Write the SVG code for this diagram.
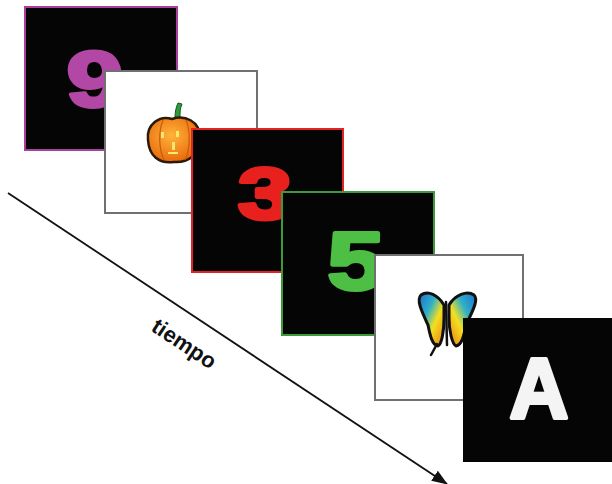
<svg xmlns="http://www.w3.org/2000/svg" width="612" height="484" viewBox="0 0 612 484">
  <defs>
    <style>
      .card-dark { fill: #050505; stroke-width: 2; }
      .card-light { fill: #ffffff; stroke: #707070; stroke-width: 2; }
      .glyph { font-family: "Liberation Sans", Arial, sans-serif; font-weight: bold; text-anchor: middle; stroke-width: 4; stroke-linejoin: round; }
      .label { font-family: "Liberation Sans", Arial, sans-serif; font-weight: bold; font-size: 22px; fill: #111; }
    </style>
    <marker id="arrowhead" viewBox="0 0 16 12" refX="15" refY="6" markerWidth="16" markerHeight="12" markerUnits="userSpaceOnUse" orient="auto">
      <path d="M0,0 L16,6 L0,12 z" fill="#111"/>
    </marker>
    <radialGradient id="pumpkinFill" cx="0.45" cy="0.4" r="0.6">
      <stop offset="0" stop-color="#ffb43a"/>
      <stop offset="1" stop-color="#e86a0c"/>
    </radialGradient>
    <linearGradient id="wingL" x1="0" y1="0" x2="1" y2="1">
      <stop offset="0" stop-color="#1e6fd0"/>
      <stop offset="0.35" stop-color="#2fb0c8"/>
      <stop offset="0.6" stop-color="#f2e020"/>
      <stop offset="1" stop-color="#f07a10"/>
    </linearGradient>
    <linearGradient id="wingR" x1="1" y1="0" x2="0" y2="1">
      <stop offset="0" stop-color="#1e6fd0"/>
      <stop offset="0.35" stop-color="#2fb0c8"/>
      <stop offset="0.6" stop-color="#f2e020"/>
      <stop offset="1" stop-color="#f07a10"/>
    </linearGradient>
  </defs>

  <rect width="612" height="484" fill="#ffffff"/>

  <!-- time axis -->
  <g id="connectors">
    <line x1="8" y1="193" x2="447" y2="484" stroke="#111" stroke-width="1.8" marker-end="url(#arrowhead)"/>
  </g>
  <text class="label" transform="translate(150,330) rotate(33.5)">tiempo</text>

  <!-- stimulus 1: purple nine -->
  <g id="card-nine">
    <rect class="card-dark" x="25" y="7" width="152" height="143" stroke="#a8409c"/>
    <text class="glyph" transform="translate(95,106) scale(1.3,1)" fill="#b247a6" stroke="#b247a6" font-size="78">9</text>
  </g>

  <!-- stimulus 2: pumpkin -->
  <g id="card-pumpkin">
    <rect class="card-light" x="105" y="71" width="152" height="142"/>
    <path d="M175,118 C175,112 176,107 178,103 L182,104 C180,108 180,113 180,118 z" fill="#2e9a3a" stroke="#145a1c" stroke-width="1"/>
    <path d="M148,140 C146,124 160,115 172,119 C184,115 200,120 200,138 C201,155 187,163 174,162 C159,164 149,156 148,140 z" fill="url(#pumpkinFill)" stroke="#2a1a08" stroke-width="2.5"/>
    <path d="M163,120 C158,132 159,150 164,160 M186,120 C191,132 190,150 185,160" fill="none" stroke="#c85a0a" stroke-width="1.2"/>
    <rect x="161" y="132" width="3" height="6" fill="#ffe870"/>
    <rect x="176" y="131" width="3" height="6" fill="#ffe870"/>
    <rect x="172" y="142" width="3" height="8" fill="#ffe870"/>
    <rect x="168" y="152" width="10" height="2" fill="#ffe870"/>
  </g>

  <!-- stimulus 3: red three -->
  <g id="card-three">
    <rect class="card-dark" x="192" y="129" width="151" height="143" stroke="#e42222"/>
    <text class="glyph" transform="translate(265,219) scale(1.35,1)" fill="#e8201e" stroke="#e8201e" font-size="72">3</text>
  </g>

  <!-- stimulus 4: green five -->
  <g id="card-five">
    <rect class="card-dark" x="282" y="192" width="152" height="143" stroke="#3c9a38"/>
    <text class="glyph" transform="translate(356,289) scale(1.25,1)" fill="#4cbf44" stroke="#4cbf44" font-size="82">5</text>
  </g>

  <!-- stimulus 5: butterfly -->
  <g id="card-butterfly">
    <rect class="card-light" x="375" y="255" width="148" height="145"/>
    <path d="M444,305 C438,295 428,290 421,295 C416,300 422,312 428,325 C430,335 432,345 438,346 C442,344 444,330 444,318 z" fill="url(#wingL)" stroke="#111" stroke-width="3" stroke-linejoin="round"/>
    <path d="M449,305 C455,295 467,290 474,295 C479,300 472,312 466,325 C464,335 462,345 456,346 C452,344 449,330 449,318 z" fill="url(#wingR)" stroke="#111" stroke-width="3" stroke-linejoin="round"/>
    <path d="M446,302 L447,345 M437,344 L431,355" fill="none" stroke="#111" stroke-width="2.5" stroke-linecap="round"/>
  </g>

  <!-- stimulus 6: letter A -->
  <g id="card-letter">
    <rect x="463" y="318" width="149" height="144" fill="#050505"/>
    <text class="glyph" transform="translate(539,418) scale(0.95,1)" fill="#f4f4f4" stroke="#f4f4f4" font-size="86">A</text>
  </g>
</svg>
